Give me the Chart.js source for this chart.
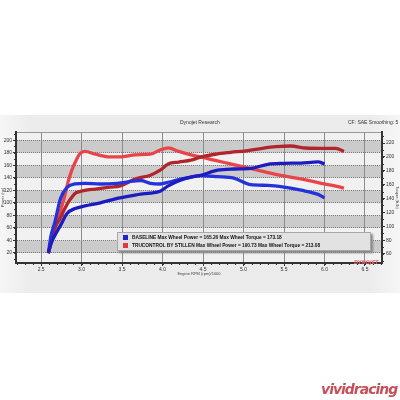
<!DOCTYPE html>
<html>
<head>
<meta charset="utf-8">
<script src="https://cdn.jsdelivr.net/npm/chart.js@4"></script>
<style>
  body { margin: 0; background: #fff; }
  #wrap { position: relative; width: 400px; height: 400px; overflow: hidden; }
  #panel { position: absolute; left: 0; top: 115px; width: 400px; height: 178px;
    background: linear-gradient(to right, #f6f6f6, #ececec 8%, #ececec 92%, #f6f6f6); }
  canvas { position: absolute; left: 0; top: 0; }
  .t { position: absolute; font-family: "Liberation Sans", sans-serif; color: #333; white-space: nowrap; }
  #legend { position: absolute; left: 117px; top: 232px; width: 252px; height: 17px;
    background: #e2e2e2; border: 1px solid #a8a8a8; box-shadow: 2px 2px 2px #888; }
  .row { position: absolute; left: 5px; font: bold 4.8px "Liberation Sans", sans-serif; color: #111; white-space: nowrap; }
  .sq { display: inline-block; width: 5px; height: 5px; margin-right: 4px; vertical-align: middle; }
  #vivid { position: absolute; left: 321px; top: 381px; font: italic bold 14px "DejaVu Sans", sans-serif;
    color: #c4505a; letter-spacing: -1px; }
</style>
</head>
<body>
<div id="wrap">
  <div id="panel"></div>
  <canvas id="dyno" width="400" height="400"></canvas>
  <div class="t" style="left:180px; top:119px; font-size:5px;">Dynojet Research</div>
  <div class="t" style="left:348px; top:119px; font-size:5px;">CF: SAE Smoothing: 5</div>
  <div id="legend">
    <div class="row" style="top:2px;"><span class="sq" style="background:#1f24d0"></span>BASELINE Max Wheel Power = 165.26 Max Wheel Torque = 173.18</div>
    <div class="row" style="top:10px;"><span class="sq" style="background:#e03a40"></span>TRUCONTROL BY STILLEN Max Wheel Power = 190.73 Max Wheel Torque = 213.08</div>
  </div>
  <div class="t" style="left:354px; top:259px; font: italic bold 5px 'DejaVu Sans'; color:#e0606e;">DYNOJET</div>
  <div id="vivid">vividracing</div>
</div>
<script>
// engine rpm / 1000
const baseRpm = [2.59, 2.62, 2.67, 2.74, 2.82, 2.92, 3.04, 3.23, 3.44, 3.64, 3.73, 3.85, 3.97, 4.07, 4.22, 4.35, 4.47, 4.68, 4.88, 5.09, 5.3, 5.5, 5.71, 5.92, 6.0];
const basePower = [20, 34, 48, 64, 83, 91, 95, 100, 107, 112, 114, 115.5, 118.5, 127, 136, 141, 144, 152, 154, 155, 161.5, 163, 163.5, 165.2, 162];
const baseTorque = [61, 85, 106, 140, 156, 161, 162, 161, 162, 165, 166, 162, 161, 163.5, 168, 171, 173, 171.5, 169.5, 160, 159, 156.5, 152, 146, 141];

const truRpm = [2.59, 2.67, 2.73, 2.79, 2.84, 2.88, 2.92, 2.98, 3.04, 3.17, 3.35, 3.48, 3.66, 3.85, 3.97, 4.07, 4.2, 4.35, 4.47, 4.65, 4.84, 5.03, 5.21, 5.4, 5.58, 5.77, 5.96, 6.14, 6.24];
const truPower = [20, 60, 74, 90, 102, 109, 115, 118, 120, 122, 125, 127, 138, 144, 152, 162, 165, 168, 173, 177.5, 180.5, 183, 186.5, 189.5, 190.7, 187.5, 187, 187, 182];
const truTorque = [61, 96, 119, 143, 167, 181, 192, 205, 208, 204, 200, 200, 203, 204, 210, 213, 208, 203, 200, 195, 190, 185, 180, 175, 171, 167, 162, 158, 155];

const rpmTicks = [2.5, 3.0, 3.5, 4.0, 4.5, 5.0, 5.5, 6.0, 6.5];
const powerTicks = [20, 40, 60, 80, 100, 120, 140, 160, 180, 200];
const torqueTicks = [60, 80, 100, 120, 140, 160, 180, 200, 220];

function pts(xs, ys) {
    return xs.map((x, i) => ({ x: x, y: ys[i] }));
}

const tickFont = { family: "Liberation Sans", size: 5 };
const titleFont = { family: "Liberation Sans", size: 4 };

// plot background bands + minor ticks
const dynoBack = {
    id: "dynoBack",
    beforeDraw(chart) {
        const { ctx, chartArea: a, scales } = chart;
        const yp = scales.yPower;
        ctx.save();
        ctx.fillStyle = "#f1f1f1";
        ctx.fillRect(a.left, a.top, a.right - a.left, a.bottom - a.top);
        ctx.fillStyle = "#cbcbcb";
        for (let v = 20; v < 200; v += 40) {
            const y1 = yp.getPixelForValue(v + 20), y2 = yp.getPixelForValue(v);
            ctx.fillRect(a.left, y1, a.right - a.left, y2 - y1);
        }
        ctx.strokeStyle = "#999";
        ctx.lineWidth = 1;
        ctx.beginPath();
        ctx.moveTo(a.left, a.top + 0.5);
        ctx.lineTo(a.right, a.top + 0.5);
        ctx.stroke();
        ctx.restore();
    },
    afterDraw(chart) {
        const { ctx, chartArea: a, scales } = chart;
        ctx.save();
        ctx.strokeStyle = "#333";
        ctx.lineWidth = 1;
        ctx.beginPath();
        for (let v = 2.2; v <= 6.71; v += 0.1) {
            const x = Math.round(scales.x.getPixelForValue(v)) + 0.5;
            ctx.moveTo(x, a.bottom);
            ctx.lineTo(x, a.bottom + 2);
        }
        for (let v = 10; v <= 210; v += 10) {
            const y = Math.round(scales.yPower.getPixelForValue(v)) + 0.5;
            ctx.moveTo(a.left - 2, y);
            ctx.lineTo(a.left, y);
        }
        for (let v = 50; v <= 230; v += 10) {
            const y = Math.round(scales.yTorque.getPixelForValue(v)) + 0.5;
            ctx.moveTo(a.right, y);
            ctx.lineTo(a.right + 2, y);
        }
        ctx.stroke();
        ctx.restore();
    }
};

const lineOpts = { borderWidth: 3.3, pointRadius: 0, cubicInterpolationMode: "monotone", fill: false };

new Chart(document.getElementById("dyno").getContext("2d"), {
    type: "line",
    data: {
        datasets: [
            Object.assign({ label: "BASELINE Power", data: pts(baseRpm, basePower), yAxisID: "yPower", borderColor: "#1c1cc0" }, lineOpts),
            Object.assign({ label: "BASELINE Torque", data: pts(baseRpm, baseTorque), yAxisID: "yTorque", borderColor: "#2432dc" }, lineOpts),
            Object.assign({ label: "TRUCONTROL Power", data: pts(truRpm, truPower), yAxisID: "yPower", borderColor: "#b0262c" }, lineOpts),
            Object.assign({ label: "TRUCONTROL Torque", data: pts(truRpm, truTorque), yAxisID: "yTorque", borderColor: "#e8454a" }, lineOpts)
        ]
    },
    options: {
        responsive: false,
        animation: false,
        layout: { padding: { top: 132, bottom: 124, left: 0, right: 0 } },
        plugins: { legend: { display: false }, tooltip: { enabled: false } },
        scales: {
            x: {
                type: "linear", min: 2.19, max: 6.71,
                afterBuildTicks: s => { s.ticks = rpmTicks.map(v => ({ value: v })); },
                afterFit: s => { s.height = 13; },
                ticks: { font: tickFont, color: "#333", padding: 1, maxRotation: 0, autoSkip: false, callback: v => v.toFixed(1) },
                title: { display: true, text: "Engine RPM (rpm)/1000", font: titleFont, color: "#444", padding: 0 },
                grid: { color: "#8c8c8c", lineWidth: 1, tickLength: 3, tickColor: "#333" },
                border: { color: "#333", width: 2 }
            },
            yPower: {
                position: "left", min: 4, max: 213,
                afterBuildTicks: s => { s.ticks = powerTicks.map(v => ({ value: v })); },
                afterFit: s => { s.width = 16; },
                ticks: { font: tickFont, color: "#333", padding: 1, autoSkip: false },
                title: { display: true, text: "Power (hp)", font: titleFont, color: "#444", padding: 0 },
                grid: { color: "#7a7a7a", lineWidth: 1, tickLength: 3, tickColor: "#333" },
                border: { color: "#333", width: 2, dash: [1, 1] }
            },
            yTorque: {
                position: "right", min: 47, max: 236,
                afterBuildTicks: s => { s.ticks = torqueTicks.map(v => ({ value: v })); },
                afterFit: s => { s.width = 18; },
                ticks: { font: tickFont, color: "#333", padding: 1, autoSkip: false },
                title: { display: true, text: "Torque (ft-lb)", font: titleFont, color: "#444", padding: 0 },
                grid: { drawOnChartArea: false, tickLength: 3, tickColor: "#333" },
                border: { color: "#333", width: 2 }
            }
        }
    },
    plugins: [dynoBack]
});
</script>
</body>
</html>
